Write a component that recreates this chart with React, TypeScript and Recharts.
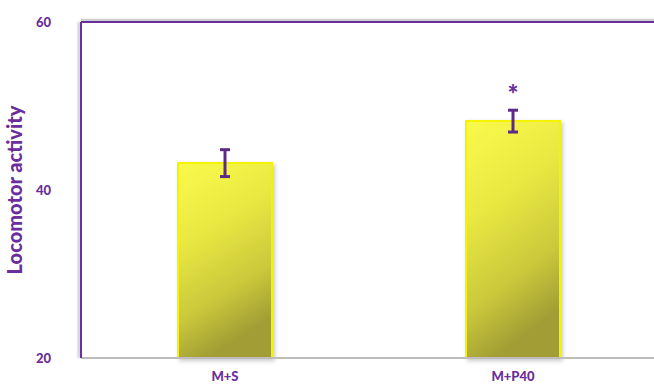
import { BarChart, Bar, XAxis, YAxis, ErrorBar, LabelList, CartesianGrid } from 'recharts';

// group names, mean activity, SEM and significance marks
const groups = ['M+S', 'M+P40'];
const activity = [43.2, 48.2];
const sem = [1.6, 1.3];
const marks = ['', '*'];
const yTicks = [20, 40, 60];

const purple = '#6a2d9e';
const font = 'Lato, "Open Sans", sans-serif';

const data = groups.map((g, i) => ({
  group: g,
  activity: activity[i],
  sem: sem[i],
  mark: marks[i],
}));

const renderStar = (props: any) => {
  const { x, y, width, value } = props;
  if (!value) return null;
  return (
    <text
      x={x + width / 2}
      y={y - 17}
      textAnchor="middle"
      fill={purple}
      fontSize={26}
      fontWeight={900}
      fontFamily={font}
    >
      {value}
    </text>
  );
};

export default function App() {
  return (
    <div style={{ position: 'absolute', left: 0, top: 0, background: '#fff' }}>
      <BarChart
        width={654}
        height={387}
        data={data}
        margin={{ top: 22, right: -3, bottom: 0, left: 0 }}
      >
        <defs>
          <linearGradient id="barFill" x1="0" y1="0" x2="0.3" y2="1">
            <stop offset="0%" stopColor="#fafa4c" />
            <stop offset="40%" stopColor="#e8e842" />
            <stop offset="75%" stopColor="#cbc83b" />
            <stop offset="100%" stopColor="#a29e35" />
          </linearGradient>
          <filter id="barShadow" x="-20%" y="-20%" width="140%" height="140%">
            <feDropShadow dx="2" dy="2" stdDeviation="2" floodColor="#777" floodOpacity="0.4" />
          </filter>
          <filter id="edgeShadow" filterUnits="userSpaceOnUse" x="0" y="0" width="700" height="400">
            <feDropShadow dx="-2" dy="0" stdDeviation="1.2" floodColor="#888" floodOpacity="0.55" />
          </filter>
        </defs>
        {/* top edge of the frame, with a soft grey edge just above it */}
        <CartesianGrid
          vertical={false}
          horizontalValues={[60.2]}
          stroke="#cfcfcf"
          strokeWidth={3}
        />
        <CartesianGrid
          vertical={false}
          horizontalValues={[60]}
          stroke={purple}
          strokeWidth={2}
        />
        <XAxis
          dataKey="group"
          height={29}
          axisLine={{ stroke: '#bcbcbc', strokeWidth: 2 }}
          tickLine={false}
          tickSize={0}
          tickMargin={14}
          tick={{ fill: purple, fontSize: 13, fontWeight: 900, fontFamily: font }}
        />
        <YAxis
          domain={[20, 60]}
          ticks={yTicks}
          width={81}
          axisLine={{ stroke: purple, strokeWidth: 2, filter: 'url(#edgeShadow)' }}
          tickLine={false}
          tickSize={0}
          tickMargin={30}
          tick={{ fill: purple, fontSize: 13, fontWeight: 900, fontFamily: font }}
          label={{
            value: 'Locomotor activity',
            angle: -90,
            position: 'insideLeft',
            offset: 15,
            style: {
              textAnchor: 'middle',
              fill: purple,
              fontSize: 20,
              fontWeight: 900,
              fontFamily: font,
            },
          }}
        />
        <Bar
          dataKey="activity"
          barSize={94}
          fill="url(#barFill)"
          stroke="#f4f400"
          strokeWidth={2}
          style={{ filter: 'url(#barShadow)' }}
          isAnimationActive={false}
        >
          <ErrorBar dataKey="sem" width={5} stroke="#5e2a88" strokeWidth={3} />
          <LabelList dataKey="mark" content={renderStar} />
        </Bar>
      </BarChart>
    </div>
  );
}
